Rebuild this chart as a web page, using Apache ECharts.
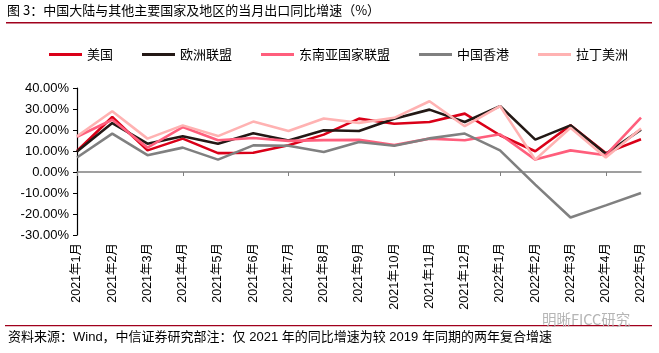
<!DOCTYPE html>
<html>
<head>
<meta charset="utf-8">
<script src="https://cdn.jsdelivr.net/npm/echarts@6/dist/echarts.min.js"></script>
<style>
html, body { margin: 0; padding: 0; background: #fff; }
#chart { width: 659px; height: 353px; }
</style>
</head>
<body>
<div id="chart"></div>
<script>
var months = ['2021年1月','2021年2月','2021年3月','2021年4月','2021年5月','2021年6月','2021年7月','2021年8月','2021年9月','2021年10月','2021年11月','2021年12月','2022年1月','2022年2月','2022年3月','2022年4月','2022年5月'];
var usa   = [10, 26.2, 10.3, 15.9, 9, 9.2, 12.7, 17.8, 25.4, 23, 23.8, 27.8, 17.5, 9.9, 22.2, 9, 15.6];
var eu    = [9.8, 23.3, 13.5, 17, 13.5, 18.5, 15, 19.9, 19.5, 25.4, 29.7, 23.8, 31.4, 15.4, 22.2, 8.7, 20.2];
var asean = [16.8, 24.9, 11.6, 21.4, 15.1, 16.2, 14.8, 15.2, 15.3, 12.8, 15.9, 15.1, 18, 5.9, 10.3, 8, 25.9];
var hk    = [6.9, 18.3, 8, 11.6, 5.9, 12.7, 12.5, 9.5, 14.3, 12.5, 16, 18.3, 10.3, -6, -21.7, -15.9, -10];
var latam = [17, 28.9, 15.9, 22.2, 17.1, 24, 19.5, 25.5, 23.4, 25.8, 33.7, 21.8, 31.4, 5.9, 21.1, 6.9, 20.7];

var names  = ['美国', '欧洲联盟', '东南亚国家联盟', '中国香港', '拉丁美洲'];
var colors = ['#DA0018', '#231815', '#FF5E7C', '#808080', '#FFB2B2'];
var values = [usa, eu, asean, hk, latam];

var cjk = '"Noto Sans CJK SC", sans-serif';
var num = '"Liberation Sans", Arial, "Noto Sans CJK SC", sans-serif';

var series = values.map(function (d, i) {
    return {
        name: names[i],
        type: 'line',
        data: d,
        xAxisIndex: 0,
        symbol: 'none',
        lineStyle: { color: colors[i], width: 2.6 },
        itemStyle: { color: colors[i] }
    };
});

var chart = echarts.init(document.getElementById('chart'));
chart.setOption({
    animation: false,
    color: colors,
    grid: { left: 77, right: 18, top: 88, bottom: 118 },
    legend: {
        top: 43, left: 44,
        itemWidth: 33, itemHeight: 3, itemGap: 29,
        icon: 'rect',
        textStyle: { fontFamily: cjk, fontSize: 13, color: '#000' },
        data: names
    },
    xAxis: [
        {
            type: 'category',
            data: months,
            boundaryGap: false,
            position: 'bottom',
            axisLine: { show: false, onZero: false },
            axisTick: { show: false },
            axisLabel: { rotate: 90, margin: 8, fontFamily: num, fontSize: 12.5, color: '#000' },
            splitLine: { show: false }
        },
        {
            // 0 轴上的灰色横线和刻度
            type: 'category',
            data: months,
            boundaryGap: false,
            position: 'bottom',
            axisLine: { show: true, onZero: true, lineStyle: { color: '#808080', width: 1.5 } },
            axisTick: { show: true, length: 4, lineStyle: { color: '#808080' } },
            axisLabel: { show: false },
            splitLine: { show: false }
        }
    ],
    yAxis: {
        type: 'value',
        min: -30, max: 40, interval: 10,
        axisLine: { show: true, lineStyle: { color: '#000', width: 1.2 } },
        axisTick: { show: true, length: 4, lineStyle: { color: '#000' } },
        splitLine: { show: false },
        axisLabel: {
            fontFamily: num, fontSize: 13, color: '#000', margin: 8,
            formatter: function (v) { return v.toFixed(2) + '%'; }
        }
    },
    graphic: [
        { type: 'text', left: 7, top: 4, style: { text: '图 3：中国大陆与其他主要国家及地区的当月出口同比增速（%）', font: '13px ' + cjk, fill: '#000' } },
        { type: 'rect', left: 6, top: 22, shape: { width: 646, height: 1.5 }, style: { fill: '#A0001C' } },
        { type: 'rect', left: 5, top: 325, shape: { width: 647, height: 1.2 }, style: { fill: '#A0001C' } },
        { type: 'text', left: 542, top: 312, style: { text: '明晰FICC研究', font: '14.5px ' + cjk, fill: '#b5b5b5' } },
        { type: 'text', left: 8, top: 331, style: { text: '资料来源：Wind，中信证券研究部注：仅 2021 年的同比增速为较 2019 年同期的两年复合增速', font: '13px ' + num, fill: '#000' } }
    ],
    series: series
});

window.onresize = function () { chart.resize(); };
</script>
</body>
</html>
